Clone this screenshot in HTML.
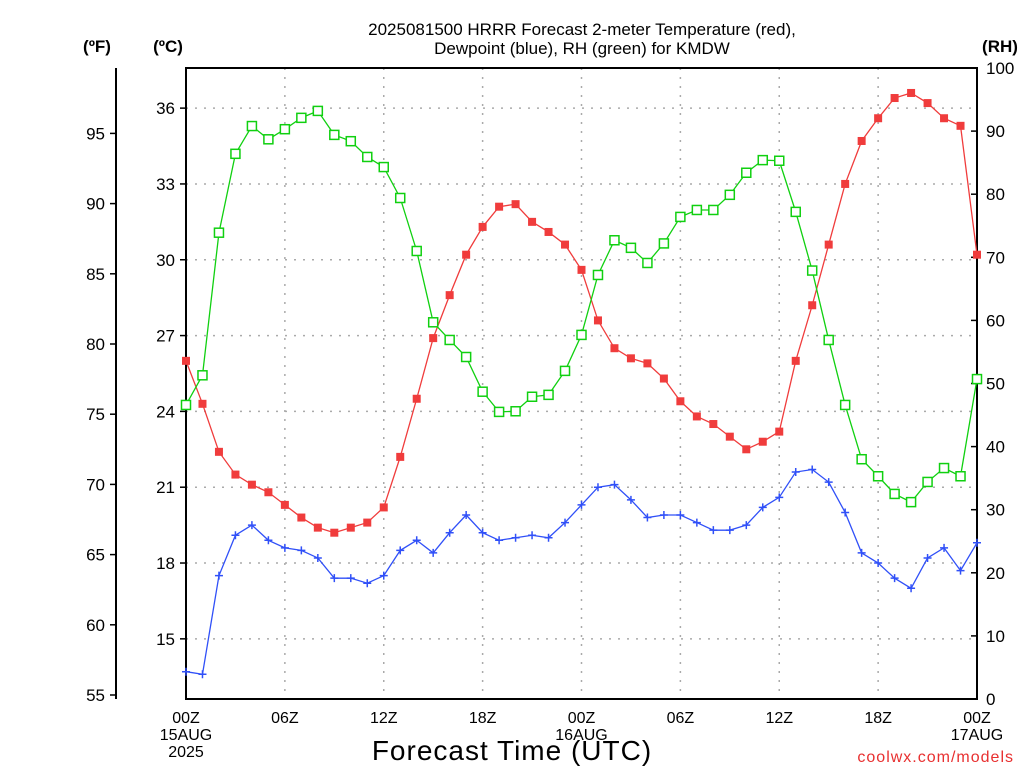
<!DOCTYPE html>
<html><head><meta charset="utf-8"><style>
body{margin:0;background:#fff;}
svg text{font-family:"Liberation Sans","DejaVu Sans",sans-serif;}
</style></head><body>
<svg id="chart" width="1024" height="768" viewBox="0 0 1024 768" xmlns="http://www.w3.org/2000/svg">
<rect width="1024" height="768" fill="#fff"/>
<g font-size="17" fill="#000" text-anchor="middle">
<text x="582" y="35">2025081500 HRRR Forecast 2-meter Temperature (red),</text>
<text x="582" y="54">Dewpoint (blue), RH (green) for KMDW</text>
</g>
<text x="97" y="52" font-size="17" font-weight="bold" text-anchor="middle">(ºF)</text>
<text x="168" y="52" font-size="17" font-weight="bold" text-anchor="middle">(ºC)</text>
<text x="1000" y="52" font-size="17" font-weight="bold" text-anchor="middle">(RH)</text>
<g id="grid"></g>
<g id="axes"></g>
<g id="series"></g>
<text x="512" y="760" font-size="28" letter-spacing="1" text-anchor="middle">Forecast Time (UTC)</text>
<text x="1014" y="762" font-size="16" fill="#e83030" text-anchor="end" letter-spacing="1">coolwx.com/models</text>
</svg>
<script>
const hours = [0,1,2,3,4,5,6,7,8,9,10,11,12,13,14,15,16,17,18,19,20,21,22,23,24,25,26,27,28,29,30,31,32,33,34,35,36,37,38,39,40,41,42,43,44,45,46,47,48];
const tempC = [26.0,24.3,22.4,21.5,21.1,20.8,20.3,19.8,19.4,19.2,19.4,19.6,20.2,22.2,24.5,26.9,28.6,30.2,31.3,32.1,32.2,31.5,31.1,30.6,29.6,27.6,26.5,26.1,25.9,25.3,24.4,23.8,23.5,23.0,22.5,22.8,23.2,26.0,28.2,30.6,33.0,34.7,35.6,36.4,36.6,36.2,35.6,35.3,30.2];
const dewC = [13.7,13.6,17.5,19.1,19.5,18.9,18.6,18.5,18.2,17.4,17.4,17.2,17.5,18.5,18.9,18.4,19.2,19.9,19.2,18.9,19.0,19.1,19.0,19.6,20.3,21.0,21.1,20.5,19.8,19.9,19.9,19.6,19.3,19.3,19.5,20.2,20.6,21.6,21.7,21.2,20.0,18.4,18.0,17.4,17.0,18.2,18.6,17.7,18.8];
const rh = [46.6,51.3,73.9,86.4,90.8,88.7,90.3,92.1,93.2,89.4,88.4,85.9,84.3,79.4,71.0,59.7,56.9,54.2,48.7,45.5,45.6,47.9,48.2,52.0,57.7,67.2,72.7,71.5,69.1,72.2,76.4,77.5,77.5,79.9,83.4,85.4,85.3,77.2,67.9,56.9,46.6,38.0,35.3,32.5,31.2,34.4,36.6,35.3,50.7];
const fTicks = [55,60,65,70,75,80,85,90,95];
const cTicks = [15,18,21,24,27,30,33,36];
const rhTicks = [0,10,20,30,40,50,60,70,80,90,100];
const xTickHours = [0,6,12,18,24,30,36,42,48];
const xTickLabels = [["00Z","15AUG","2025"],["06Z"],["12Z"],["18Z"],["00Z","16AUG"],["06Z"],["12Z"],["18Z"],["00Z","17AUG"]];

const L=186,R=977,T=68,B=699;
const NS="http://www.w3.org/2000/svg";
const xs=h=>L+(R-L)*h/48;
const yF=f=>695-(f-55)*14.04;
const yC=c=>yF(c*9/5+32);
const yRH=v=>B-(B-T)*v/100;
function mk(tag,attrs,parent){const e=document.createElementNS(NS,tag);for(const k in attrs)e.setAttribute(k,attrs[k]);parent.appendChild(e);return e;}
const grid=document.getElementById('grid'),axes=document.getElementById('axes'),series=document.getElementById('series');
xTickHours.forEach(h=>{if(h>0&&h<48){const l=mk('line',{x1:xs(h),x2:xs(h),y1:T,y2:B,stroke:'#aaa','stroke-width':1.5,'stroke-dasharray':'2 7'},grid);

}});
cTicks.forEach(c=>{const l=mk('line',{x1:L,x2:R,y1:yC(c),y2:yC(c),stroke:'#aaa','stroke-width':1.5,'stroke-dasharray':'2 7'},grid);

});
const frame=mk('rect',{x:L,y:T,width:R-L,height:B-T,fill:'none',stroke:'#000','stroke-width':2},axes);


const fa=mk('line',{x1:116,x2:116,y1:T,y2:B,stroke:'#000','stroke-width':2},axes);


fTicks.forEach(f=>{mk('line',{x1:110,x2:116,y1:yF(f),y2:yF(f),stroke:'#000','stroke-width':1.5},axes);
const t=mk('text',{x:105,y:yF(f)+6,'font-size':17,'text-anchor':'end'},axes);t.textContent=f;

});
cTicks.forEach(c=>{mk('line',{x1:180,x2:186,y1:yC(c),y2:yC(c),stroke:'#000','stroke-width':1.5},axes);
const t=mk('text',{x:175,y:yC(c)+6,'font-size':17,'text-anchor':'end'},axes);t.textContent=c;

});
rhTicks.forEach(v=>{mk('line',{x1:R-6,x2:R,y1:yRH(v),y2:yRH(v),stroke:'#000','stroke-width':1.5},axes);
const t=mk('text',{x:986,y:yRH(v)+6,'font-size':17,'text-anchor':'start'},axes);t.textContent=v;

});
xTickHours.forEach((h,i)=>{xTickLabels[i].forEach((s,j)=>{const t=mk('text',{x:xs(h),y:723+j*17,'font-size':16,'text-anchor':'middle'},axes);t.textContent=s;

});});
function line(vals,yf,color,name){const p=mk('polyline',{points:vals.map((v,i)=>xs(hours[i])+','+yf(v)).join(' '),fill:'none',stroke:color,'stroke-width':1.3},series);

}
line(tempC,yC,'#f03c3c','temperature-line');
line(dewC,yC,'#3050f8','dewpoint-line');
line(rh,yRH,'#10d010','rh-line');
tempC.forEach((v,i)=>{const r=mk('rect',{x:xs(hours[i])-4,y:yC(v)-4,width:8,height:8,fill:'#f03c3c'},series);

});
rh.forEach((v,i)=>{const r=mk('rect',{x:xs(hours[i])-4.5,y:yRH(v)-4.5,width:9,height:9,fill:'#fff',stroke:'#10d010','stroke-width':1.5},series);

});
dewC.forEach((v,i)=>{const x=xs(hours[i]),y=yC(v);const p=mk('path',{d:`M${x-4},${y}H${x+4}M${x},${y-4}V${y+4}`,stroke:'#3050f8','stroke-width':1.5},series);

});
</script>
</body></html>
